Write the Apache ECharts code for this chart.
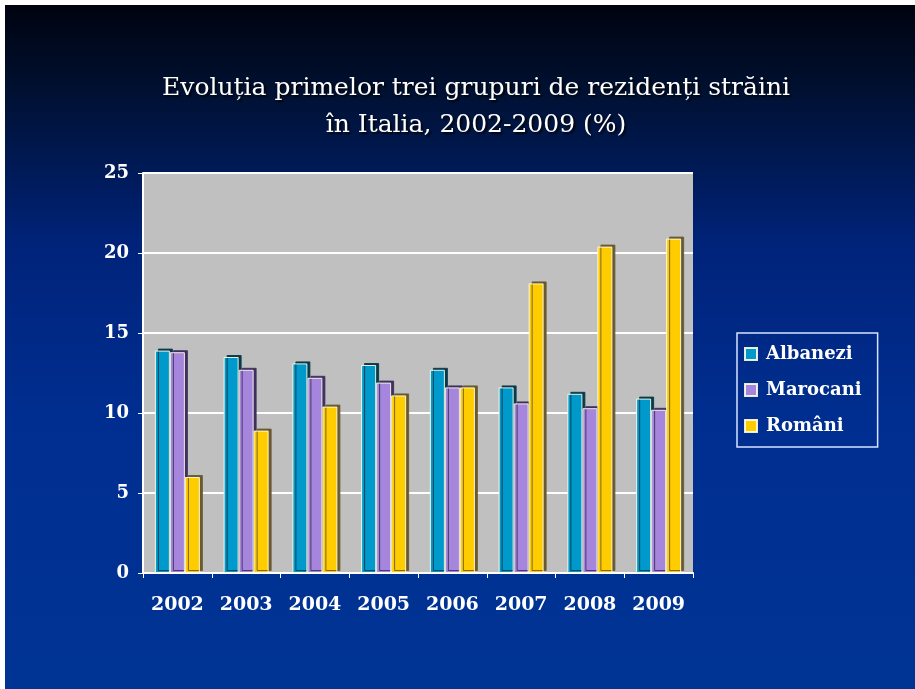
<!DOCTYPE html>
<html><head><meta charset="utf-8">
<style>html,body{margin:0;padding:0;background:#fff;}#c{width:915px;height:689px;}</style>
<script src="https://cdn.jsdelivr.net/npm/echarts@6/dist/echarts.min.js"></script>
</head><body><div id="c"></div>
<script>
var categories = ['2002','2003','2004','2005','2006','2007','2008','2009'];
var albanezi = [13.9,13.5,13.1,13.0,12.7,11.6,11.2,10.9];
var marocani = [13.8,12.7,12.2,11.9,11.6,10.6,10.3,10.2];
var romani   = [6.0,8.9,10.4,11.1,11.6,18.1,20.4,20.9];
var yTicks = [0,5,10,15,20,25];

var chart = echarts.init(document.getElementById('c'), null, {renderer:'canvas'});
var font = '"DejaVu Serif", "Liberation Serif", serif';
function bar(name, data, color, side) {
  return {
    name: name, type: 'bar', data: data, barWidth: 15, barGap: '0%',
    itemStyle: { color: color, borderColor: 'rgba(255,255,230,0.9)', borderWidth: 1,
      shadowColor: side, shadowOffsetX: 3, shadowOffsetY: -2, shadowBlur: 0 }
  };
}
chart.setOption({
  backgroundColor: '#ffffff',
  animation: false,
  graphic: [{
    type: 'rect', z: -10, shape: {x: 5, y: 5, width: 910, height: 684},
    style: { fill: new echarts.graphic.LinearGradient(0,0,0,1,[
      {offset:0,color:'#00030f'},{offset:0.12,color:'#001030'},{offset:0.35,color:'#00237a'},
      {offset:0.6,color:'#002e90'},{offset:1,color:'#003494'}]) }
  }],
  title: {
    text: 'Evoluția primelor trei grupuri de rezidenți străini\nîn Italia, 2002-2009 (%)',
    left: 471, top: 65, textAlign: 'center',
    textStyle: { color: '#ffffff', fontFamily: font, fontWeight: 'normal', fontSize: 25, lineHeight: 37,
      textShadowColor: 'rgba(0,0,0,0.8)', textShadowOffsetX: 2, textShadowOffsetY: 2, textShadowBlur: 2 }
  },
  legend: {
    orient: 'vertical', left: 737, top: 333, itemWidth: 12, itemHeight: 12, itemGap: 18,
    padding: [12, 16, 12, 7], borderColor: '#d8e4ff', borderWidth: 1.5,
    icon: 'rect',
    textStyle: { color: '#ffffff', fontFamily: font, fontWeight: 'bold', fontSize: 18, padding: [0,0,0,4] },
    data: ['Albanezi','Marocani','Români']
  },
  grid: { left: 143, right: 222, top: 173, bottom: 116, show: true, backgroundColor: '#c0c0c0', borderWidth: 0 },
  xAxis: {
    type: 'category', data: categories,
    axisLine: { lineStyle: { color: '#ffffff', width: 2 } },
    axisTick: { show: true, lineStyle: { color: '#ffffff' }, length: 5 },
    axisLabel: { color: '#ffffff', fontFamily: font, fontWeight: 'bold', fontSize: 19, margin: 23 }
  },
  yAxis: {
    type: 'value', min: 0, max: 25, interval: 5,
    axisLine: { show: true, lineStyle: { color: '#ffffff', width: 2 } },
    axisTick: { show: true, lineStyle: { color: '#ffffff' }, length: 5 },
    splitLine: { lineStyle: { color: '#ffffff', width: 2 } },
    axisLabel: { color: '#ffffff', fontFamily: font, fontWeight: 'bold', fontSize: 18, margin: 14,
      formatter: function (v) { return yTicks.indexOf(v) >= 0 ? String(v) : ''; } }
  },
  series: [
    bar('Albanezi', albanezi, '#0099cc', '#0a3a4a'),
    bar('Marocani', marocani, '#a586dc', '#3e3060'),
    bar('Români', romani, '#ffcc00', '#6a5a30')
  ]
});
</script></body></html>
